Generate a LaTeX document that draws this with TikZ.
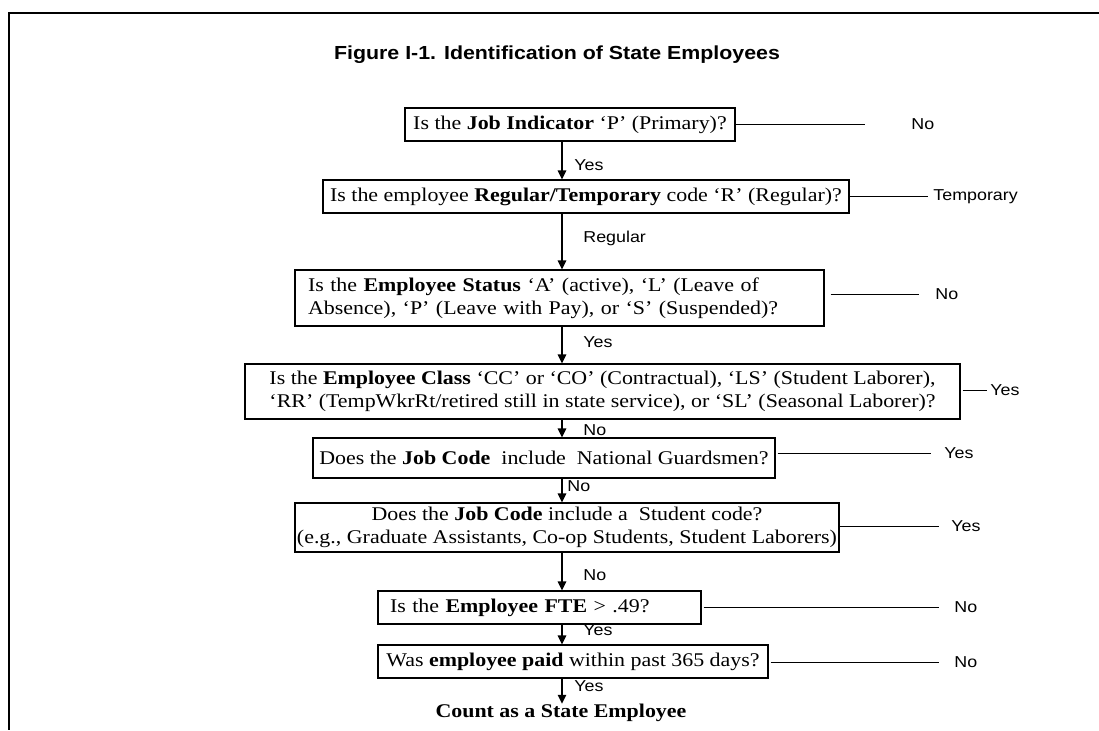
\documentclass[tikz,border=0pt]{standalone}
\usepackage{fontspec}
\setmainfont{Liberation Serif}[FakeStretch=1.13]
\setsansfont{Liberation Sans}[FakeStretch=1.13]
\usetikzlibrary{arrows.meta}

\tikzset{
  qbox/.style={draw, line width=0.6pt, inner sep=0pt, align=center,
    font=\fontsize{9.7}{11.5}\selectfont},
  lab/.style={font=\sffamily\fontsize{7.9}{9}\selectfont, inner sep=0pt, anchor=west},
  flow/.style={line width=0.9pt, -{Triangle[length=4.5pt,width=4.2pt]}},
  side/.style={line width=0.5pt},
}

\begin{document}
\begin{tikzpicture}[x=0.5pt,y=-0.5pt]
  \useasboundingbox (0,0) rectangle (1099,730);
  % frame
  \draw[line width=1pt] (1099,12.5) -- (9,12.5) -- (9,730);

  \node[font=\sffamily\bfseries\fontsize{9.45}{11}\selectfont] (title) at (557,55)
    {Figure I-1. Identification of State Employees};

  % questions
  \node[qbox, minimum width=165pt, minimum height=16.5pt] (b1) at (570,124.5)
    {Is the \textbf{Job Indicator} `P' (Primary)?};
  \node[qbox, minimum width=263pt, minimum height=16.5pt] (b2) at (586,196.5)
    {Is the employee \textbf{Regular/Temporary} code `R' (Regular)?};
  \node[qbox, align=left, text width=251.5pt, inner xsep=6.5pt, minimum height=28pt] (b3) at (559.5,298)
    {Is the \textbf{Employee Status} `A' (active), `L' (Leave of\\
     Absence), `P' (Leave with Pay), or `S' (Suspended)?};
  \node[qbox, minimum width=357.5pt, minimum height=27.5pt] (b4) at (602.5,391.5)
    {Is the \textbf{Employee Class} `CC' or `CO' (Contractual), `LS' (Student Laborer),\\
     `RR' (TempWkrRt/retired still in state service), or `SL' (Seasonal Laborer)?};
  \node[qbox, minimum width=231pt, minimum height=20pt] (b5) at (544,458)
    {Does the \textbf{Job Code}\ \ include\ \ National Guardsmen?};
  \node[qbox, minimum width=272pt, minimum height=24.5pt] (b6) at (567,527.5)
    {Does the \textbf{Job Code} include a\ \ Student code?\\
     (e.g., Graduate Assistants, Co-op Students, Student Laborers)};
  \node[qbox, align=left, text width=149.5pt, inner xsep=6pt, minimum height=16.5pt] (b7) at (539.5,607.5)
    {Is the \textbf{Employee FTE} > .49?};
  \node[qbox, minimum width=195pt, minimum height=16.5pt] (b8) at (573,661.5)
    {Was \textbf{employee paid} within past 365 days?};
  \node[font=\bfseries\fontsize{9.7}{11}\selectfont, inner sep=0pt] (cnt) at (561,713)
    {Count as a State Employee};

  % main flow
  \coordinate (spine) at (562,0);
  \draw[flow] (b1.south -| spine) -- (b2.north -| spine);
  \draw[flow] (b2.south -| spine) -- (b3.north -| spine);
  \draw[flow] (b3.south -| spine) -- (b4.north -| spine);
  \draw[flow] (b4.south -| spine) -- (b5.north -| spine);
  \draw[flow] (b5.south -| spine) -- (b6.north -| spine);
  \draw[flow] (b6.south -| spine) -- (b7.north -| spine);
  \draw[flow] (b7.south -| spine) -- (b8.north -| spine);
  \draw[flow] (b8.south -| spine) -- (cnt.north -| spine);

  \node[lab] (y1) at (574,165) {Yes};
  \node[lab] (r2) at (583,238) {Regular};
  \node[lab] (y3) at (583,342) {Yes};
  \node[lab] (n4) at (583,430) {No};
  \node[lab] (n5) at (567,486) {No};
  \node[lab] (n6) at (583,575) {No};
  \node[lab] (y7) at (583,630) {Yes};
  \node[lab] (y8) at (574,686) {Yes};

  % exits to the right
  \coordinate (t1) at (865,124.5);
  \coordinate (t2) at (928,196.5);
  \coordinate (t3) at (919,294);
  \coordinate (t4) at (987,390);
  \coordinate (t5) at (931,453);
  \coordinate (t6) at (939,526);
  \coordinate (t7) at (939,607);
  \coordinate (t8) at (939,662);
  \draw[side] (b1.east) -- (t1);
  \draw[side] (b2.east) -- (t2);
  \draw[side] ([xshift=3pt]b3.east |- t3) -- (t3);
  \draw[side] ([xshift=1pt]b4.east |- t4) -- (t4);
  \draw[side] ([xshift=1pt]b5.east |- t5) -- (t5);
  \draw[side] (b6.east |- t6) -- (t6);
  \draw[side] ([xshift=1pt]b7.east |- t7) -- (t7);
  \draw[side] ([xshift=1pt]b8.east |- t8) -- (t8);
  \node[lab] (x1) at (911,124.5) {No};
  \node[lab] (x2) at (933,196.5) {Temporary};
  \node[lab] (x3) at (935,294) {No};
  \node[lab] (x4) at (990,390) {Yes};
  \node[lab] (x5) at (944,453) {Yes};
  \node[lab] (x6) at (951,526) {Yes};
  \node[lab] (x7) at (954,607) {No};
  \node[lab] (x8) at (954,662) {No};
\end{tikzpicture}
\end{document}
